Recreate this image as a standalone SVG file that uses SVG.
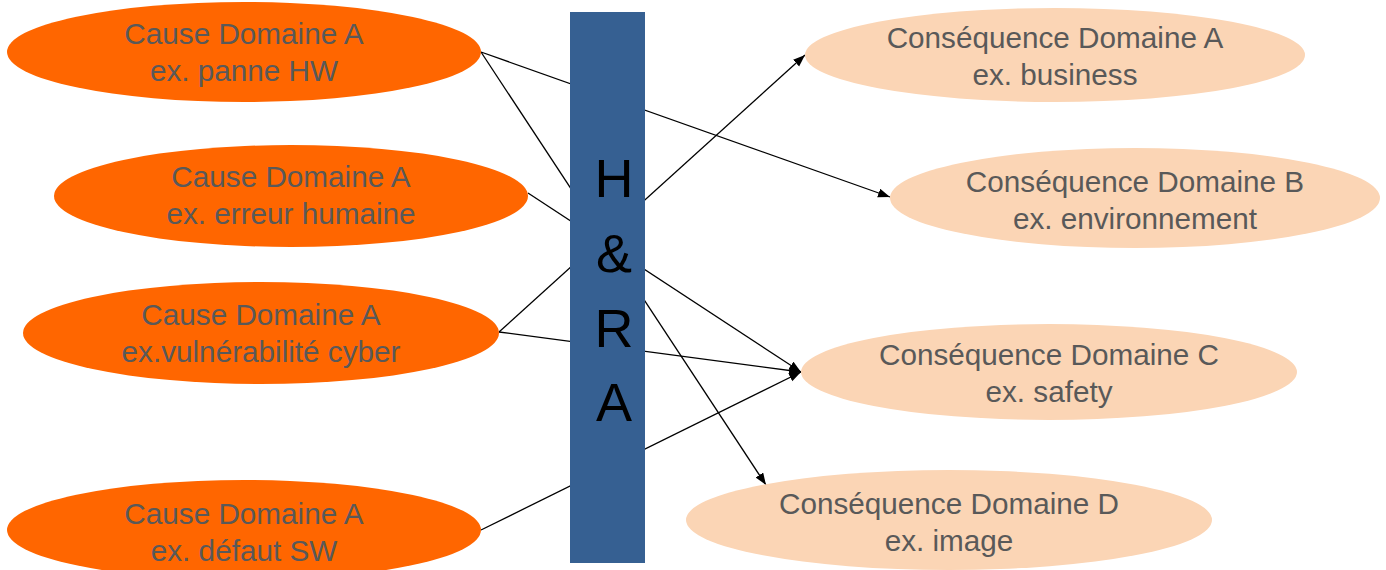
<svg xmlns="http://www.w3.org/2000/svg" width="1386" height="570" viewBox="0 0 1386 570">
<style>
.cause{fill:#FF6600}
.cons{fill:#FBD5B5}
.t{font-family:"Liberation Sans",Arial,sans-serif;font-size:29.7px;fill:#595959;text-anchor:middle}
.bt{font-family:"Liberation Sans",Arial,sans-serif;font-size:54px;fill:#000;text-anchor:middle}
.c{stroke:#000;stroke-width:1.3;fill:none}
</style>
<defs>
<marker id="ah" markerUnits="userSpaceOnUse" markerWidth="13" markerHeight="10" refX="12" refY="4.5" orient="auto">
<path d="M0,0 L12,4.5 L0,9 z" fill="#000"/>
</marker>
</defs>
<g id="connectors">
<line class="c" x1="481" y1="52" x2="890" y2="197" marker-end="url(#ah)"/>
<line class="c" x1="481" y1="52" x2="766" y2="485" marker-end="url(#ah)"/>
<line class="c" x1="528" y1="193" x2="801" y2="372" marker-end="url(#ah)"/>
<line class="c" x1="499" y1="332" x2="805" y2="55" marker-end="url(#ah)"/>
<line class="c" x1="499" y1="332" x2="801" y2="372" marker-end="url(#ah)"/>
<line class="c" x1="481" y1="530" x2="801" y2="372" marker-end="url(#ah)"/>
</g>
<g id="cause1"><ellipse class="cause" cx="244" cy="52" rx="237" ry="50"/><text class="t" x="244" y="44">Cause Domaine A</text><text class="t" x="244" y="81">ex. panne HW</text></g>
<g id="cause2"><ellipse class="cause" cx="291" cy="196" rx="237" ry="51"/><text class="t" x="291" y="187">Cause Domaine A</text><text class="t" x="291" y="224">ex. erreur humaine</text></g>
<g id="cause3"><ellipse class="cause" cx="261" cy="333" rx="238" ry="51"/><text class="t" x="261" y="325">Cause Domaine A</text><text class="t" x="261" y="362">ex.vulnérabilité cyber</text></g>
<g id="cause4"><ellipse class="cause" cx="244" cy="530" rx="237" ry="50"/><text class="t" x="244" y="524">Cause Domaine A</text><text class="t" x="244" y="561">ex. défaut SW</text></g>
<g id="hra"><rect x="570" y="12" width="75" height="551" fill="#366092"/><text class="bt" x="614" y="197">H</text><text class="bt" x="614" y="272">&amp;</text><text class="bt" x="614" y="347">R</text><text class="bt" x="614" y="421">A</text></g>
<g id="consA"><ellipse class="cons" cx="1055" cy="55" rx="250" ry="47"/><text class="t" x="1055" y="48">Conséquence Domaine A</text><text class="t" x="1055" y="85">ex. business</text></g>
<g id="consB"><ellipse class="cons" cx="1135" cy="198" rx="245" ry="50"/><text class="t" x="1135" y="192">Conséquence Domaine B</text><text class="t" x="1135" y="229">ex. environnement</text></g>
<g id="consC"><ellipse class="cons" cx="1049" cy="372" rx="248" ry="48"/><text class="t" x="1049" y="365">Conséquence Domaine C</text><text class="t" x="1049" y="402">ex. safety</text></g>
<g id="consD"><ellipse class="cons" cx="949" cy="520" rx="263" ry="50"/><text class="t" x="949" y="514">Conséquence Domaine D</text><text class="t" x="949" y="551">ex. image</text></g>
</svg>
